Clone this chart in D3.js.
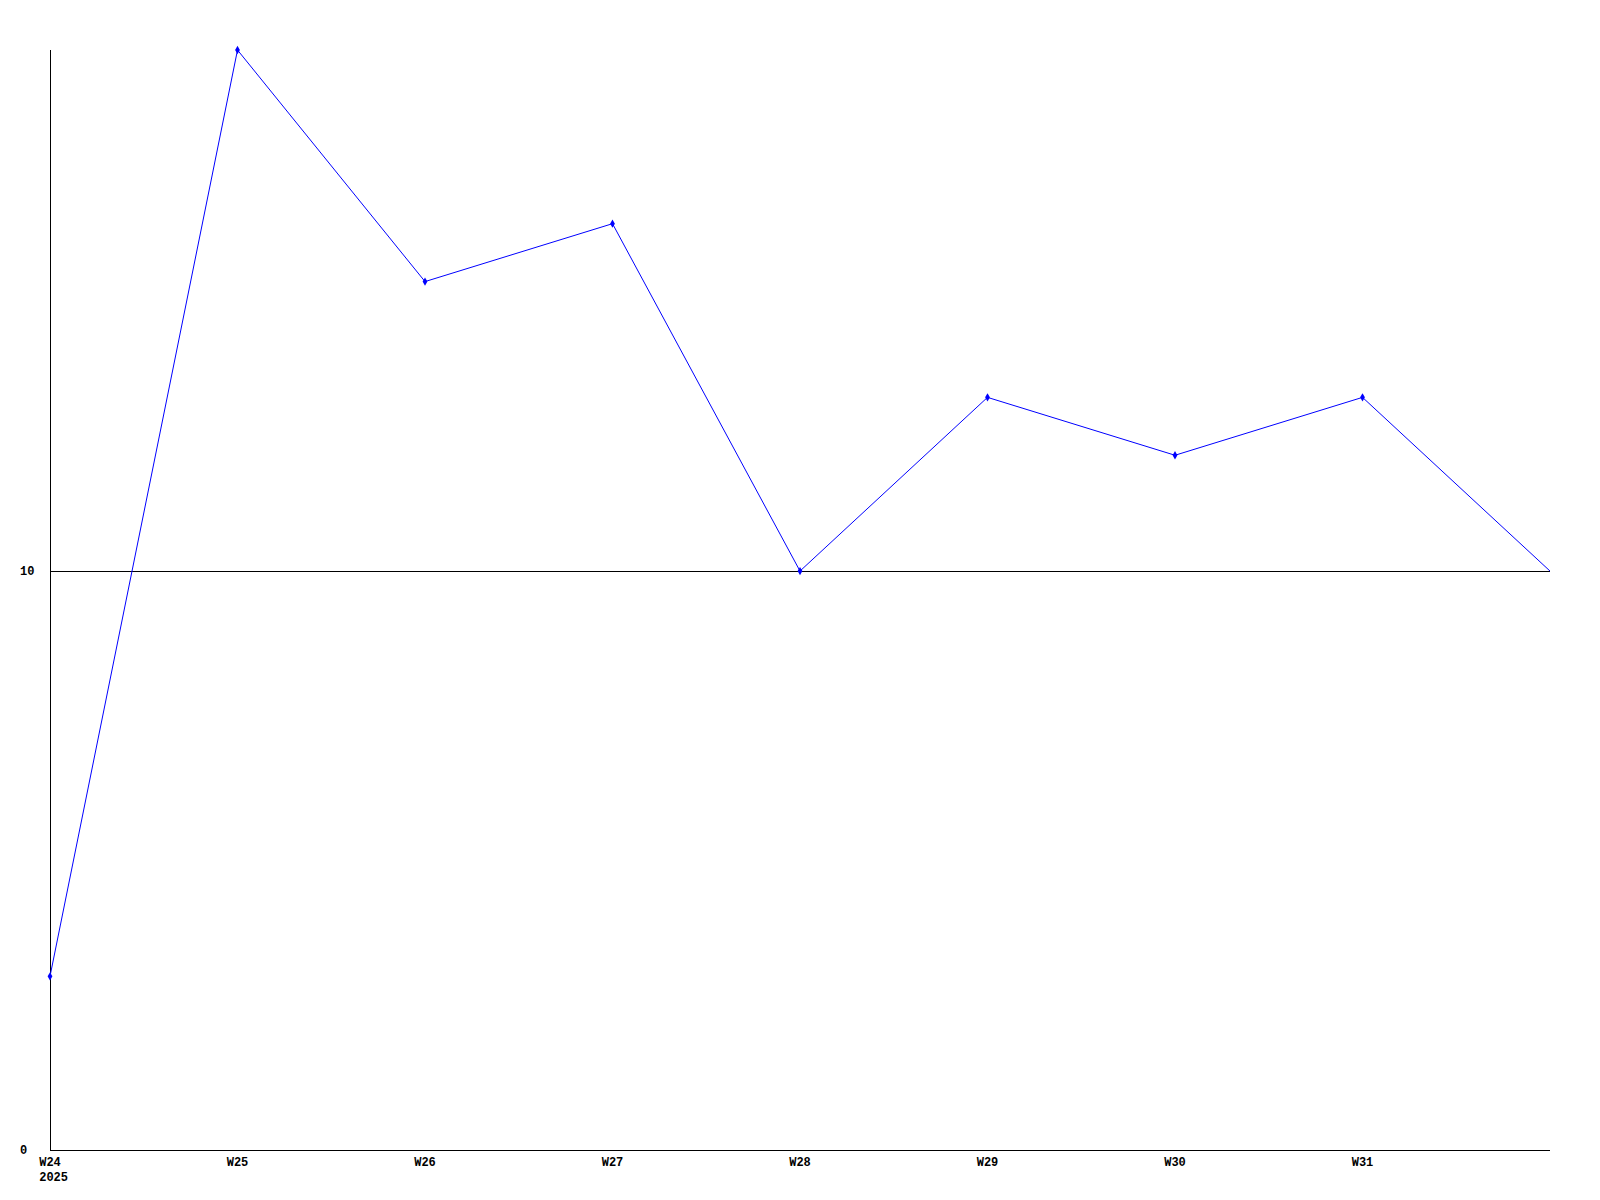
<!DOCTYPE html>
<html>
<head>
<meta charset="utf-8">
<script src="https://cdn.jsdelivr.net/npm/d3@7"></script>
<style>
  html, body { margin: 0; padding: 0; background: #fff; }
  text { font-family: "Liberation Mono", "DejaVu Sans Mono", monospace; font-weight: bold; font-size: 12px; fill: #000; }
</style>
</head>
<body>
<div id="chart"></div>
<script>
// weeks on the x axis; the last one is the open end of the line (no label, no marker)
const weeks = ["W24", "W25", "W26", "W27", "W28", "W29", "W30", "W31", "W32"];
const values = [3, 19, 15, 16, 10, 13, 12, 13, 10];
const labeledWeeks = ["W24", "W25", "W26", "W27", "W28", "W29", "W30", "W31"];
const yearLabel = "2025";
const yTicks = [0, 10];

const width = 1600, height = 1200;
const plot = {left: 50, right: 1550, top: 50, bottom: 1150};

const svg = d3.select("#chart").append("svg")
    .attr("width", width)
    .attr("height", height);

const x = d3.scalePoint().domain(weeks).range([plot.left, plot.right]);
const y = d3.scaleLinear().domain([0, 19]).range([plot.bottom, plot.top]);

// horizontal reference lines (y ticks other than zero)
svg.append("g").selectAll("line")
    .data(yTicks.filter(d => d > 0))
    .join("line")
    .attr("x1", plot.left).attr("x2", plot.right)
    .attr("y1", d => Math.round(y(d)) + 0.5).attr("y2", d => Math.round(y(d)) + 0.5)
    .style("stroke", "#000")
    .style("stroke-width", 1)
    .attr("shape-rendering", "crispEdges");

// axes
svg.append("line")
    .attr("x1", plot.left + 0.5).attr("x2", plot.left + 0.5)
    .attr("y1", plot.top).attr("y2", plot.bottom)
    .style("stroke", "#000").attr("shape-rendering", "crispEdges");
svg.append("line")
    .attr("x1", plot.left).attr("x2", plot.right)
    .attr("y1", plot.bottom + 0.5).attr("y2", plot.bottom + 0.5)
    .style("stroke", "#000").attr("shape-rendering", "crispEdges");

// y labels
svg.append("g").selectAll("text")
    .data(yTicks)
    .join("text")
    .attr("x", 20)
    .attr("y", d => y(d) + 4)
    .text(d => d);

// x labels
const xLabels = svg.append("g").selectAll("text")
    .data(labeledWeeks)
    .join("text")
    .attr("x", d => x(d))
    .attr("y", plot.bottom + 16)
    .attr("text-anchor", "middle")
    .text(d => d);

// year sits under the first week label, sharing its left edge
const firstBox = xLabels.node().getBBox();
svg.append("text")
    .attr("x", firstBox.x)
    .attr("y", plot.bottom + 31)
    .text(yearLabel);

// series line
const pts = weeks.map((w, i) => ({w, v: values[i]}));
svg.append("path")
    .datum(pts)
    .attr("d", d3.line().x(d => x(d.w)).y(d => y(d.v)))
    .style("fill", "none")
    .style("stroke", "#0000ff")
    .style("stroke-width", 1);

// markers
svg.append("g").selectAll("path")
    .data(pts.filter(d => labeledWeeks.includes(d.w)))
    .join("path")
    .attr("transform", d => `translate(${x(d.w)},${y(d.v)})`)
    .attr("d", d3.symbol(d3.symbolDiamond, 20))
    .style("fill", "#0000ff");
</script>
</body>
</html>
